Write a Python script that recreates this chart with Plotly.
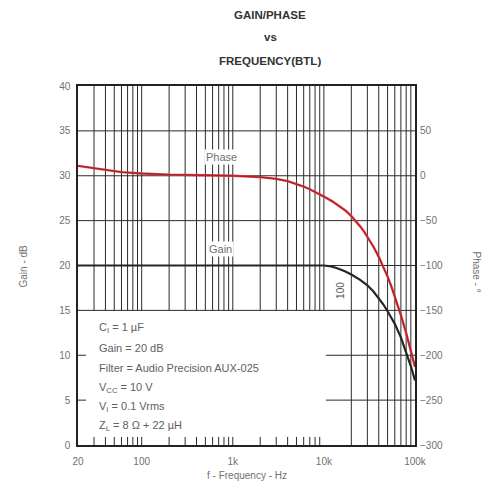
import plotly.graph_objects as go

# Gain curve (BTL), dB versus frequency
freq_gain = [20, 100, 1000, 5000, 10000, 12000, 14000, 17000, 20000, 25000,
             30000, 35000, 40000, 45000, 50000, 60000, 70000, 80000, 90000, 100000]
gain_db = [20.0, 20.0, 20.0, 20.0, 20.0, 19.9, 19.7, 19.35, 19.0, 18.4,
           17.8, 17.1, 16.35, 15.65, 14.9, 13.5, 12.0, 10.4, 8.8, 7.2]

# Phase curve, degrees versus frequency
freq_phase = [20, 25, 30, 40, 60, 100, 200, 500, 1000, 2000, 3000, 4000, 5000,
              6000, 7000, 8000, 10000, 12500, 15000, 17500, 20000, 22500, 25000,
              27500, 30000, 35000, 40000, 45000, 50000, 55000, 60000, 70000,
              80000, 90000, 100000]
phase_deg = [11, 9.5, 8, 6, 4, 2.5, 1.2, 0.5, 0, -1.5, -3.5, -6, -9,
             -12, -15, -17.9, -23.2, -28.8, -34, -39.3, -45, -50.7, -56.4,
             -62, -67.7, -79.1, -90.4, -101.4, -112.4, -123.3, -134.1, -155.2,
             -175.2, -194.3, -213]

# Axis ticks
x_tickvals = [20, 100, 1000, 10000, 100000]
x_ticktext = ["20", "100", "1k", "10k", "100k"]
gain_ticks = [0, 5, 10, 15, 20, 25, 30, 35, 40]
phase_ticks = [50, 0, -50, -100, -150, -200, -250, -300]

# Test conditions
conditions = [
    "C<sub>I</sub> = 1 µF",
    "Gain = 20 dB",
    "Filter = Audio Precision AUX-025",
    "V<sub>CC</sub> = 10 V",
    "V<sub>I</sub> = 0.1 Vrms",
    "Z<sub>L</sub> = 8 Ω + 22 µH",
]
condition_levels = [13.0, 10.8, 8.6, 6.4, 4.2, 2.1]

GRID = "#2b2b2b"
TXT = "#707070"
FONT = "Liberation Sans, Arial, sans-serif"

fig = go.Figure()

fig.add_trace(go.Scatter(x=freq_phase, y=phase_deg, yaxis="y2", mode="lines",
                         line=dict(color="#e8323c", width=2.4),
                         hoverinfo="skip", showlegend=False))
fig.add_trace(go.Scatter(x=freq_phase, y=phase_deg, yaxis="y2", mode="lines",
                         line=dict(color="rgba(70,30,30,0.55)", width=1),
                         hoverinfo="skip", showlegend=False))
fig.add_trace(go.Scatter(x=freq_gain, y=gain_db, mode="lines",
                         line=dict(color="#262626", width=2.2),
                         hoverinfo="skip", showlegend=False))

# Log grid: decade subdivisions
grid_freqs = []
for dec in (10, 100, 1000, 10000):
    for m in range(1, 10):
        f = m * dec
        if 20 < f < 100000:
            grid_freqs.append(f)

shapes = []
for f in grid_freqs:
    y_bottom = 15 if f <= 10000 else 0
    shapes.append(dict(type="line", xref="x", yref="y", x0=f, x1=f, y0=y_bottom, y1=40,
                       line=dict(color=GRID, width=1), layer="below"))
    if f < 10000:
        shapes.append(dict(type="line", xref="x", yref="y", x0=f, x1=f, y0=0, y1=0.9,
                           line=dict(color=GRID, width=1), layer="below"))
for g in (15, 20, 25, 30, 35):
    shapes.append(dict(type="line", xref="x", yref="y", x0=20, x1=100000, y0=g, y1=g,
                       line=dict(color=GRID, width=1), layer="below"))
for g in (5, 10):
    shapes.append(dict(type="line", xref="x", yref="y", x0=10500, x1=100000, y0=g, y1=g,
                       line=dict(color=GRID, width=1), layer="below"))
    shapes.append(dict(type="line", xref="x", yref="y", x0=20, x1=24.5, y0=g, y1=g,
                       line=dict(color=GRID, width=1), layer="below"))

annotations = []
title_lines = [("GAIN/PHASE", 15), ("vs", 37), ("FREQUENCY(BTL)", 61)]
for text, ypx in title_lines:
    annotations.append(dict(text="<b>%s</b>" % text, xref="paper", yref="paper",
                            x=(270 - 78) / 337, y=(445 - ypx) / 359,
                            xanchor="center", yanchor="middle", showarrow=False,
                            font=dict(size=11.5, color="#333333", family=FONT)))
for text, lvl in zip(conditions, condition_levels):
    annotations.append(dict(text=text, xref="paper", yref="y", x=(97 - 78) / 337, y=lvl,
                            xanchor="left", yanchor="middle", showarrow=False,
                            font=dict(size=11, color="#606060", family=FONT)))
annotations += [
    dict(text="Phase", x=2.88, y=32.1, xref="x", yref="y", showarrow=False,
         bgcolor="white", font=dict(size=11, color=TXT, family=FONT)),
    dict(text="Gain", x=2.86, y=21.8, xref="x", yref="y", showarrow=False,
         bgcolor="white", font=dict(size=11, color=TXT, family=FONT)),
    dict(text="100", x=4.18, y=17.2, xref="x", yref="y", showarrow=False, textangle=-90,
         bgcolor="white", font=dict(size=10, color="#555555", family=FONT)),
    dict(text="Gain - dB", xref="paper", yref="paper", x=(15 - 78) / 337, y=(445 - 266) / 359,
         textangle=-90, showarrow=False, font=dict(size=10, color=TXT, family=FONT)),
    dict(text="Phase - °", xref="paper", yref="paper", x=(484 - 78) / 337, y=(445 - 272) / 359,
         textangle=90, showarrow=False, font=dict(size=10, color=TXT, family=FONT)),
    dict(text="f - Frequency - Hz", xref="paper", yref="paper", x=(247 - 78) / 337,
         y=(445 - 483) / 359, showarrow=False, font=dict(size=10, color=TXT, family=FONT)),
]

fig.update_layout(
    width=488, height=501,
    margin=dict(l=78, r=73, t=86, b=56),
    paper_bgcolor="white", plot_bgcolor="white",
    shapes=shapes, annotations=annotations,
    xaxis=dict(type="log", range=[1.30103, 5.0], tickvals=x_tickvals, ticktext=x_ticktext,
               showgrid=False, zeroline=False, showline=True, mirror=True,
               linecolor="#222222", linewidth=1.5, ticks="", ticklabelstandoff=6,
               tickfont=dict(size=10, color=TXT, family=FONT)),
    yaxis=dict(range=[0, 40], tickvals=gain_ticks, showgrid=False, zeroline=False,
               showline=True, mirror=True, linecolor="#222222", linewidth=1.5, ticks="",
               ticklabelstandoff=4,
               tickfont=dict(size=10, color=TXT, family=FONT)),
    yaxis2=dict(range=[-300, 100], overlaying="y", side="right", tickvals=phase_ticks,
                showgrid=False, zeroline=False, showline=False, ticks="",
                ticklabelstandoff=4,
                tickfont=dict(size=10, color=TXT, family=FONT)),
    showlegend=False,
)

fig.write_html("out.html")
